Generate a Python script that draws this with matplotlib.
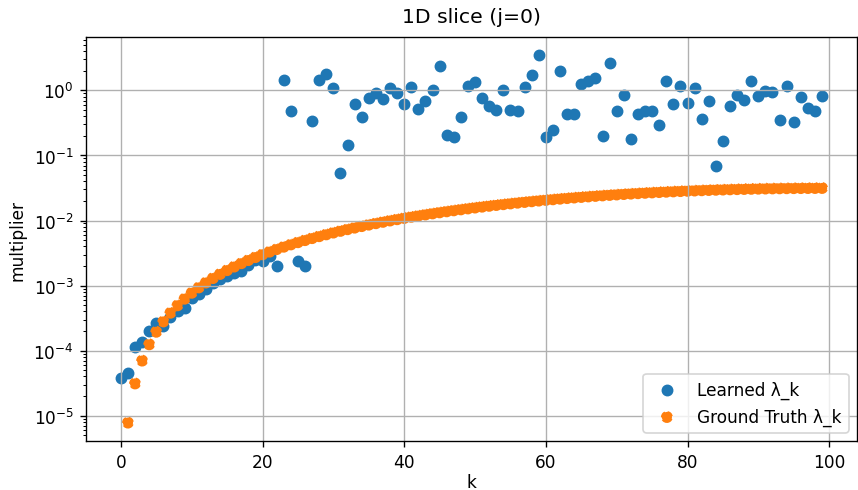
import matplotlib
matplotlib.use("Agg")
import matplotlib.pyplot as plt

k_learned = list(range(0, 100))
learned = [
    3.8e-5, 4.5e-5, 1.12e-4, 1.35e-4, 2.0e-4, 2.7e-4, 2.4e-4, 3.3e-4, 4.1e-4, 4.5e-4,
    6.5e-4, 7.5e-4, 9.0e-4, 1.1e-3, 1.25e-3, 1.4e-3, 1.55e-3, 1.7e-3, 2.1e-3, 2.5e-3,
    2.4e-3, 2.8e-3, 2.0e-3, 1.43, 0.48, 2.4e-3, 2.0e-3, 0.34, 1.43, 1.76,
    1.10, 0.054, 0.146, 0.61, 0.39, 0.76, 0.91, 0.73, 1.09, 0.92,
    0.62, 1.12, 0.52, 0.70, 1.0, 2.37, 0.21, 0.19, 0.39, 1.19,
    1.35, 0.77, 0.57, 0.50, 1.0, 0.50, 0.48, 1.12, 1.70, 3.46,
    0.19, 0.25, 2.0, 0.44, 0.44, 1.27, 1.39, 1.55, 0.20, 2.64,
    0.48, 0.86, 0.18, 0.44, 0.48, 0.48, 0.29, 1.39, 0.61, 1.17,
    0.63, 1.09, 0.36, 0.70, 0.069, 0.166, 0.575, 0.86, 0.72, 1.39,
    0.82, 0.98, 0.94, 0.35, 1.17, 0.33, 0.79, 0.54, 0.49, 0.82,
]

k_truth = list(range(1, 100))
truth = [
    7.80e-6, 3.12e-5, 7.01e-5, 1.246e-4, 1.945e-4, 2.80e-4, 3.81e-4, 4.96e-4, 6.27e-4, 7.73e-4,
    9.34e-4, 1.110e-3, 1.300e-3, 1.504e-3, 1.722e-3, 1.954e-3, 2.200e-3, 2.460e-3, 2.732e-3, 3.018e-3,
    3.316e-3, 3.626e-3, 3.948e-3, 4.282e-3, 4.628e-3, 4.984e-3, 5.351e-3, 5.729e-3, 6.116e-3, 6.513e-3,
    6.919e-3, 7.334e-3, 7.757e-3, 8.188e-3, 8.627e-3, 9.073e-3, 9.525e-3, 9.984e-3, 1.0448e-2, 1.0918e-2,
    1.1392e-2, 1.1871e-2, 1.2353e-2, 1.2839e-2, 1.3328e-2, 1.3820e-2, 1.4313e-2, 1.4808e-2, 1.5304e-2, 1.580e-2,
    1.6296e-2, 1.6792e-2, 1.7287e-2, 1.7780e-2, 1.8272e-2, 1.8761e-2, 1.9247e-2, 1.9729e-2, 2.0208e-2, 2.0682e-2,
    2.1152e-2, 2.1616e-2, 2.2075e-2, 2.2527e-2, 2.2973e-2, 2.3412e-2, 2.3843e-2, 2.4266e-2, 2.4681e-2, 2.5087e-2,
    2.5484e-2, 2.5871e-2, 2.6249e-2, 2.6616e-2, 2.6972e-2, 2.7318e-2, 2.7652e-2, 2.7974e-2, 2.8285e-2, 2.8582e-2,
    2.8868e-2, 2.9140e-2, 2.9400e-2, 2.9646e-2, 2.9878e-2, 3.0096e-2, 3.0301e-2, 3.0490e-2, 3.0666e-2, 3.0827e-2,
    3.0973e-2, 3.1104e-2, 3.1219e-2, 3.1320e-2, 3.1405e-2, 3.1475e-2, 3.1530e-2, 3.1569e-2, 3.1592e-2,
]

fig = plt.figure(figsize=(858 / 122, 491 / 122), dpi=122)
ax = fig.add_subplot(111)
fig.subplots_adjust(left=0.100, right=0.999, top=0.9226, bottom=0.0998)

ax.scatter(k_learned, learned, s=36, color="C0", label="Learned λ_k")
ax.scatter(k_truth, truth, s=36, color="C1", linestyle="--", label="Ground Truth λ_k")
ax.set_yscale("log")
ax.set_xlabel("k", labelpad=1.5)
ax.set_ylabel("multiplier")
ax.set_title("1D slice (j=0)", pad=9)
ax.grid(True)
ax.legend(loc="lower right")

fig.savefig("out.png", dpi=122)
